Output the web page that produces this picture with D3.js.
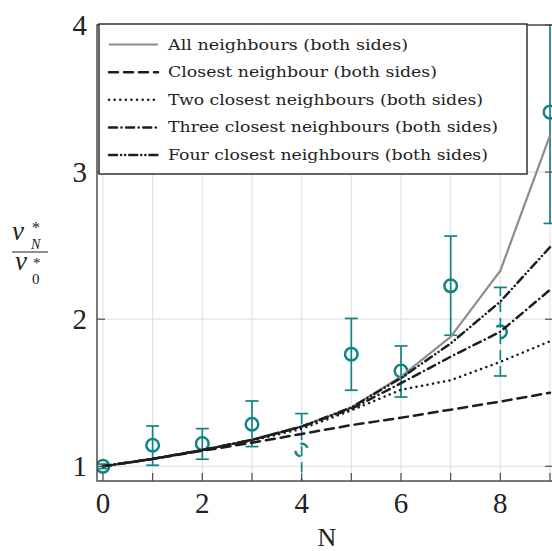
<!DOCTYPE html>
<html>
<head>
<meta charset="utf-8">
<script src="https://cdn.jsdelivr.net/npm/d3@7"></script>
<style>
  html, body { margin: 0; padding: 0; background: #fff; overflow: hidden; }
</style>
</head>
<body>
<div id="chart"></div>
<script>
// model curves, one value per N
var nValues = [0, 1, 2, 3, 4, 5, 6, 7, 8, 9];
var allNeighbours = [1.0, 1.05, 1.11, 1.18, 1.27, 1.40, 1.61, 1.88, 2.33, 3.25];
var closest1 = [1.0, 1.05, 1.105, 1.16, 1.22, 1.28, 1.33, 1.385, 1.44, 1.50];
var closest2 = [1.0, 1.05, 1.11, 1.175, 1.255, 1.38, 1.52, 1.585, 1.71, 1.85];
var closest3 = [1.0, 1.05, 1.11, 1.18, 1.27, 1.39, 1.565, 1.745, 1.915, 2.20];
var closest4 = [1.0, 1.05, 1.11, 1.18, 1.27, 1.40, 1.60, 1.835, 2.12, 2.49];

// measured points with error bars
var obsN = [0, 1, 2, 3, 5, 6, 7, 9];
var obsMean = [1.0, 1.143, 1.154, 1.286, 1.762, 1.648, 2.227, 3.408];
var obsLow = [0.985, 1.007, 1.048, 1.134, 1.517, 1.471, 1.891, 2.651];
var obsHigh = [1.015, 1.274, 1.256, 1.444, 2.005, 1.818, 2.565, 4.2];

// the two half-drawn points
var partN = [4, 8];
var partMean = [1.11, 1.914];
var partLow = [0.85, 1.614];
var partHigh = [1.358, 2.216];

var xTicks = [0, 2, 4, 6, 8];
var yTicks = [1, 2, 3, 4];

var legendLabels = [
  'All neighbours (both sides)',
  'Closest neighbour (both sides)',
  'Two closest neighbours (both sides)',
  'Three closest neighbours (both sides)',
  'Four closest neighbours (both sides)'
];

var teal = '#128484';
var width = 552, height = 551;
var pLeft = 97, pRight = 553, pTop = 25, pBottom = 481;

var svg = d3.select('#chart').append('svg')
  .attr('width', width)
  .attr('height', height);

var x = d3.scaleLinear().domain([-0.12, 9.06]).range([pLeft, pRight]);
var y = d3.scaleLinear().domain([0.9, 4]).range([pBottom, pTop]);

svg.append('defs').append('clipPath').attr('id', 'plot')
  .append('rect')
    .attr('x', pLeft).attr('y', pTop)
    .attr('width', pRight - pLeft).attr('height', pBottom - pTop);

// grid
var grid = svg.append('g');
grid.selectAll('.vgrid')
  .data(nValues)
  .enter().append('line')
    .attr('x1', function(d) { return x(d); })
    .attr('x2', function(d) { return x(d); })
    .attr('y1', pTop).attr('y2', pBottom)
    .attr('stroke', '#e3e3e3').attr('stroke-width', 1.2);
grid.selectAll('.hgrid')
  .data(yTicks)
  .enter().append('line')
    .attr('x1', pLeft).attr('x2', pRight)
    .attr('y1', function(d) { return y(d); })
    .attr('y2', function(d) { return y(d); })
    .attr('stroke', '#e3e3e3').attr('stroke-width', 1.2);

var plot = svg.append('g').attr('clip-path', 'url(#plot)');

// error bars
var obs = obsN.map(function(n, i) {
  return { n: n, mean: obsMean[i], lo: obsLow[i], hi: obsHigh[i] };
});
var part = partN.map(function(n, i) {
  return { n: n, mean: partMean[i], lo: partLow[i], hi: partHigh[i] };
});

function errorBar(g, d, dash) {
  g.append('line')
    .attr('x1', x(d.n)).attr('x2', x(d.n))
    .attr('y1', y(d.lo)).attr('y2', y(d.hi))
    .attr('stroke', teal).attr('stroke-width', 1.7)
    .attr('stroke-dasharray', dash);
  [d.lo, d.hi].forEach(function(v) {
    g.append('line')
      .attr('x1', x(d.n) - 6.5).attr('x2', x(d.n) + 6.5)
      .attr('y1', y(v)).attr('y2', y(v))
      .attr('stroke', teal).attr('stroke-width', 1.7);
  });
}

obs.forEach(function(d) { errorBar(plot, d, null); });
part.forEach(function(d) { errorBar(plot, d, '10,6'); });

plot.selectAll('.pt')
  .data(obs)
  .enter().append('circle')
    .attr('cx', function(d) { return x(d.n); })
    .attr('cy', function(d) { return y(d.mean); })
    .attr('r', 6.3)
    .attr('fill', 'none')
    .attr('stroke', teal)
    .attr('stroke-width', 2.5);

// the partial markers are only arcs of a circle
var arc = d3.arc().innerRadius(6.3).outerRadius(6.3);
var partArcs = [
  [[-0.2, 1.2], [3.3, 4.6]],
  [[-0.7, 3.2]]
];
part.forEach(function(d, i) {
  partArcs[i].forEach(function(a) {
    plot.append('path')
      .attr('transform', 'translate(' + x(d.n) + ',' + y(d.mean) + ')')
      .attr('d', arc({ startAngle: a[0], endAngle: a[1] }))
      .attr('fill', 'none')
      .attr('stroke', teal)
      .attr('stroke-width', 2.5);
  });
});

// model curves
var series = [
  { values: allNeighbours, color: '#8c8c8c', dash: null },
  { values: closest1, color: '#1e1e1e', dash: '9,6' },
  { values: closest2, color: '#1e1e1e', dash: '0.1,5.5' },
  { values: closest3, color: '#1e1e1e', dash: '8,4.5,0.1,4.5' },
  { values: closest4, color: '#1e1e1e', dash: '8,4,0.1,4,0.1,4' }
];

var line = d3.line()
  .x(function(d, i) { return x(nValues[i]); })
  .y(function(d) { return y(d); });

plot.selectAll('.curve')
  .data(series)
  .enter().append('path')
    .attr('d', function(d) { return line(d.values); })
    .attr('fill', 'none')
    .attr('stroke', function(d) { return d.color; })
    .attr('stroke-width', function(d) { return d.dash ? 2.5 : 2.2; })
    .attr('stroke-linecap', function(d) { return d.dash ? 'round' : 'butt'; })
    .attr('stroke-dasharray', function(d) { return d.dash; });

// axes box and inward ticks
var axisColor = '#4d4d4d';
svg.append('rect')
  .attr('x', pLeft).attr('y', pTop)
  .attr('width', pRight - pLeft).attr('height', pBottom - pTop)
  .attr('fill', 'none')
  .attr('stroke', axisColor).attr('stroke-width', 1.5);

svg.selectAll('.xtick')
  .data(nValues)
  .enter().append('line')
    .attr('x1', function(d) { return x(d); })
    .attr('x2', function(d) { return x(d); })
    .attr('y1', pBottom).attr('y2', pBottom - 8)
    .attr('stroke', axisColor).attr('stroke-width', 1.2);

svg.selectAll('.ytick')
  .data(yTicks)
  .enter().append('g')
  .each(function(d) {
    d3.select(this).append('line')
      .attr('x1', pLeft).attr('x2', pLeft + 8)
      .attr('y1', y(d)).attr('y2', y(d))
      .attr('stroke', axisColor).attr('stroke-width', 1.2);
    d3.select(this).append('line')
      .attr('x1', pRight).attr('x2', pRight - 8)
      .attr('y1', y(d)).attr('y2', y(d))
      .attr('stroke', axisColor).attr('stroke-width', 1.2);
  });

var serif = '"Liberation Serif", "DejaVu Serif", serif';

svg.selectAll('.xlabel')
  .data(xTicks)
  .enter().append('text')
    .attr('x', function(d) { return x(d); })
    .attr('y', 513)
    .attr('text-anchor', 'middle')
    .attr('font-family', serif)
    .attr('font-size', 29)
    .attr('fill', '#222')
    .text(function(d) { return d; });

svg.selectAll('.ylabel')
  .data(yTicks)
  .enter().append('text')
    .attr('x', 87)
    .attr('y', function(d) { return y(d); })
    .attr('dy', '0.34em')
    .attr('text-anchor', 'end')
    .attr('font-family', serif)
    .attr('font-size', 29)
    .attr('fill', '#222')
    .text(function(d) { return d; });

svg.append('text')
  .attr('x', 327).attr('y', 546)
  .attr('text-anchor', 'middle')
  .attr('font-family', serif)
  .attr('font-size', 26)
  .attr('fill', '#222')
  .text('N');

// y label: v*_N over v*_0
var yl = svg.append('g').attr('font-family', serif).attr('fill', '#222');
yl.append('text').attr('x', 12).attr('y', 240)
  .attr('font-size', 27).attr('font-style', 'italic').text('v');
yl.append('text').attr('x', 32).attr('y', 233)
  .attr('font-size', 16).text('*');
yl.append('text').attr('x', 31).attr('y', 249)
  .attr('font-size', 14).attr('font-style', 'italic').text('N');
yl.append('line').attr('x1', 12).attr('x2', 48)
  .attr('y1', 252).attr('y2', 252)
  .attr('stroke', '#222').attr('stroke-width', 1.1);
yl.append('text').attr('x', 15).attr('y', 270)
  .attr('font-size', 27).attr('font-style', 'italic').text('v');
yl.append('text').attr('x', 33).attr('y', 268)
  .attr('font-size', 15).text('*');
yl.append('text').attr('x', 32).attr('y', 284)
  .attr('font-size', 15).text('0');

// legend
var legend = svg.append('g');
legend.append('rect')
  .attr('x', 99).attr('y', 24)
  .attr('width', 428).attr('height', 150)
  .attr('fill', '#fff')
  .attr('stroke', '#333').attr('stroke-width', 1.5);

var legendWidths = [240, 269, 315, 330, 320];
var rowY = d3.scaleLinear().domain([0, 4]).range([44.5, 155]);

legendLabels.forEach(function(label, i) {
  var s = series[i];
  legend.append('line')
    .attr('x1', 109).attr('x2', 158)
    .attr('y1', rowY(i)).attr('y2', rowY(i))
    .attr('stroke', s.color)
    .attr('stroke-width', s.dash ? 2.5 : 2.2)
    .attr('stroke-linecap', s.dash ? 'round' : 'butt')
    .attr('stroke-dasharray', s.dash);
  legend.append('text')
    .attr('x', 168).attr('y', rowY(i) + 5)
    .attr('font-family', '"DejaVu Serif", serif')
    .attr('font-size', 14)
    .attr('fill', '#222')
    .attr('textLength', legendWidths[i])
    .attr('lengthAdjust', 'spacingAndGlyphs')
    .text(label);
});
</script>
</body>
</html>
